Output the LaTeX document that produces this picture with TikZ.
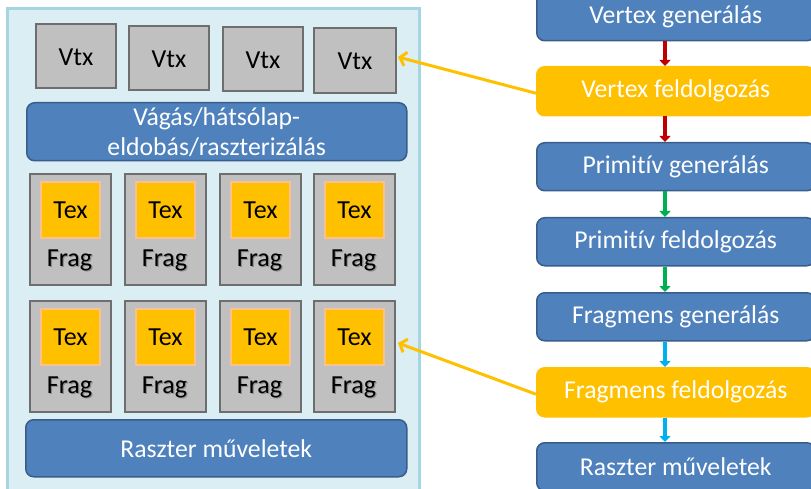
\documentclass[tikz,border=0pt]{standalone}
\usepackage{fontspec}
\setmainfont{Carlito}[Ligatures=NoCommon]
\usetikzlibrary{arrows.meta}
\definecolor{panelfill}{HTML}{DBEEF4}
\definecolor{panelline}{HTML}{A5D5E2}
\definecolor{stageblue}{HTML}{4F81BD}
\definecolor{stageline}{HTML}{385D8A}
\definecolor{unitfill}{HTML}{C0C0C0}
\definecolor{unitline}{HTML}{6E6E6E}
\definecolor{shaderorange}{HTML}{FFC000}
\definecolor{texline}{HTML}{FAC090}
\definecolor{flowred}{HTML}{C00000}
\definecolor{flowgreen}{HTML}{00B050}
\definecolor{flowcyan}{HTML}{00B0F0}
\newcommand{\shadowed}[1]{\rlap{\raisebox{-1.2pt}{\hspace{1.2pt}\textcolor{black!45}{#1}}}#1}
\begin{document}
\begin{tikzpicture}[x=1pt,y=-1pt,
  bigfont/.style={font=\fontsize{25.7}{30}\selectfont},
  unitfont/.style={font=\fontsize{26}{30}\selectfont},
  stage/.style={draw=stageline, line width=1.5pt, fill=stageblue, rounded corners=8pt,
    text=white, bigfont, anchor=north west, inner sep=0pt, align=center},
  hot/.style={stage, draw=shaderorange, fill=shaderorange},
  unitbox/.style={draw=unitline, line width=2pt, fill=unitfill, anchor=north west, inner sep=0pt},
  texbox/.style={draw=texline, line width=2pt, fill=shaderorange, anchor=north west, inner sep=0pt},
  lbl/.style={unitfont, text=black, inner sep=0pt},
  flow/.style={line width=4pt, -{Triangle[width=11pt,length=6pt]}},
  feed/.style={draw=shaderorange, line width=3pt, -{Straight Barb[length=6pt,width=14pt]}}
]
\useasboundingbox (0,0) rectangle (811,489);
\clip (0,0) rectangle (811,489);

% ---- shader cluster panel ----
\node[draw=panelline, line width=3pt, fill=panelfill, anchor=north west,
      minimum width=412pt, minimum height=500pt, inner sep=0pt] (panel) at (6,7) {};

% vertex units
\node[unitbox, minimum width=80pt, minimum height=64pt] (v1) at (35,23) {};
\node[unitbox, minimum width=80pt, minimum height=64pt] (v2) at (128,25) {};
\node[unitbox, minimum width=80pt, minimum height=64pt] (v3) at (222,26) {};
\node[unitbox, minimum width=82pt, minimum height=65pt] (v4) at (313,27) {};
\foreach \i in {1,...,4} \node[lbl] (vl\i) at ([yshift=-1pt]v\i.center) {Vtx};

% clipping / culling / rasterization bar
\node[stage, minimum width=380pt, minimum height=58pt] (clipbar) at (26,102)
  {Vágás/hátsólap-\\eldobás/raszterizálás};

% fragment units, two rows
\foreach \r/\top in {1/173, 2/300} {
  \foreach \c/\left in {1/29, 2/124, 3/219, 4/313} {
    \node[unitbox, minimum width=81pt, minimum height=111pt] (f\r\c) at (\left,\top) {};
    \node[texbox, minimum width=59pt, minimum height=56pt] (t\r\c) at (\left+11,\top+8) {};
    \node[lbl] (tl\r\c) at (t\r\c.center) {Tex};
    \node[lbl] (fl\r\c) at (\left+40.5,\top+88) {\shadowed{Frag}};
  }
}

% raster operations bar
\node[stage, minimum width=381pt, minimum height=57pt] (rop) at (25,419) {Raszter műveletek};

% ---- pipeline stages ----
\node[stage, minimum width=278pt, minimum height=48pt] (s1) at (536,-8)  {Vertex generálás};
\node[hot,   minimum width=278pt, minimum height=49pt] (s2) at (536,66)  {Vertex feldolgozás};
\node[stage, minimum width=278pt, minimum height=48pt] (s3) at (536,142) {Primitív generálás};
\node[stage, minimum width=278pt, minimum height=48pt] (s4) at (536,217) {Primitív feldolgozás};
\node[stage, minimum width=278pt, minimum height=48pt] (s5) at (536,292) {Fragmens generálás};
\node[hot,   minimum width=278pt, minimum height=49pt] (s6) at (536,367) {Fragmens feldolgozás};
\node[stage, minimum width=278pt, minimum height=48pt] (s7) at (536,442) {Raszter műveletek};

\coordinate (ax) at (665,0);
\draw[flow, draw=flowred,   fill=flowred]   (s1.south -| ax) -- (s2.north -| ax);
\draw[flow, draw=flowred,   fill=flowred]   (s2.south -| ax) -- (s3.north -| ax);
\draw[flow, draw=flowgreen, fill=flowgreen] (s3.south -| ax) -- (s4.north -| ax);
\draw[flow, draw=flowgreen, fill=flowgreen] (s4.south -| ax) -- (s5.north -| ax);
\draw[flow, draw=flowcyan,  fill=flowcyan]  (s5.south -| ax) -- (s6.north -| ax);
\draw[flow, draw=flowcyan,  fill=flowcyan]  (s6.south -| ax) -- (s7.north -| ax);

% programmable stages map onto the units
\coordinate (vin) at (398,57);
\coordinate (fin) at (398,343);
\draw[feed] ([yshift=-2pt]s2.west) -- (vin);
\draw[feed] ([yshift=-2pt]s6.west) -- (fin);
\end{tikzpicture}
\end{document}
